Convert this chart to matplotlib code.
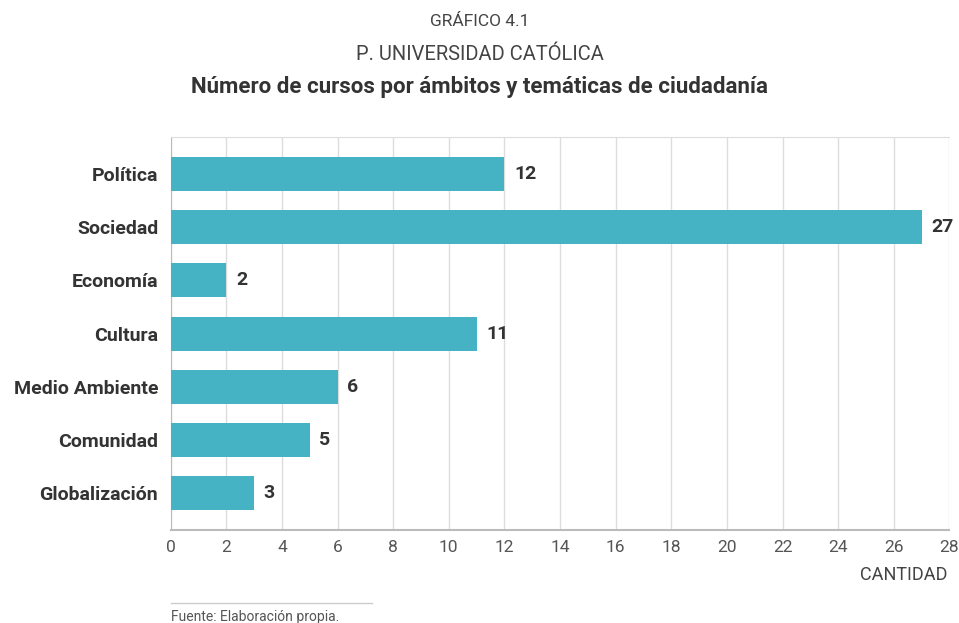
import matplotlib
matplotlib.use("Agg")
import matplotlib.pyplot as plt

categories = ["Política", "Sociedad", "Economía", "Cultura", "Medio Ambiente", "Comunidad", "Globalización"]
values = [12, 27, 2, 11, 6, 5, 3]
xticks = list(range(0, 29, 2))

plt.rcParams['font.family'] = ['Roboto', 'DejaVu Sans']

fig = plt.figure(figsize=(9.59, 6.23), dpi=100)
ax = fig.add_axes([0.178, 0.149, 0.812, 0.631])

y = list(range(len(categories)))
ax.barh(y, values, height=0.64, color="#45b3c3", zorder=3)
for yi, v in zip(y, values):
    ax.text(v + 0.35, yi, str(v), va="center", ha="left", fontsize=14, fontweight="bold", color="#333333")

ax.set_ylim(len(categories) - 0.3, -0.7)
ax.set_xlim(0, 28)
ax.set_yticks(y)
ax.set_yticklabels(categories, fontsize=14, fontweight="bold", color="#333333")
ax.set_xticks(xticks)
ax.set_xticklabels([str(t) for t in xticks], fontsize=12.5, color="#555555")
ax.tick_params(axis="y", length=0, pad=9)
ax.tick_params(axis="x", length=0, pad=7)
ax.grid(axis="x", color="#dddddd", linewidth=1, zorder=0)
ax.spines["right"].set_visible(False)
ax.spines["top"].set_color("#dddddd")
ax.spines["left"].set_color("#bbbbbb")
ax.spines["bottom"].set_color("#bbbbbb")
ax.spines["bottom"].set_linewidth(1.5)

fig.text(0.5, 0.966, "GRÁFICO 4.1", ha="center", va="center", fontsize=12.5, color="#444444")
fig.text(0.5, 0.912, "P. UNIVERSIDAD CATÓLICA", ha="center", va="center", fontsize=14.5, color="#444444")
fig.text(0.5, 0.86, "Número de cursos por ámbitos y temáticas de ciudadanía", ha="center", va="center",
         fontsize=16, fontweight="bold", color="#333333")
fig.text(0.988, 0.077, "CANTIDAD", ha="right", va="center", fontsize=13, color="#444444")
fig.add_artist(plt.Line2D([0.178, 0.388], [0.032, 0.032], color="#cccccc", linewidth=1))
fig.text(0.178, 0.009, "Fuente: Elaboración propia.", ha="left", va="center", fontsize=10, color="#555555")

fig.savefig("out.png", dpi=100)
